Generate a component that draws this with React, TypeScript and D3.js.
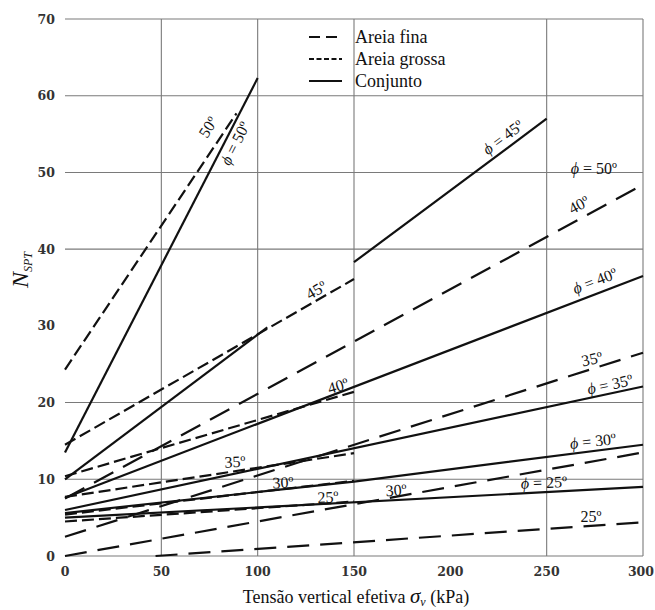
import React from 'react';
import * as d3 from 'd3';

const W = 655;
const H = 610;

const xTicks = [0, 50, 100, 150, 200, 250, 300];
const yTicks = [0, 10, 20, 30, 40, 50, 60, 70];
const xGrid = [50, 100, 150, 250, 300];
const yGrid = [0, 10, 20, 40, 50, 60, 70];

// Areia fina (long dashes): [sigma, N] end points
const finaPhi = [25, 30, 35, 40];
const finaPts: number[][][] = [
  [[47, 0], [300, 4.4]],
  [[0, 0], [300, 13.5]],
  [[0, 2.5], [300, 26.5]],
  [[0, 7.5], [300, 48.4]],
];

// Areia grossa (short dashes)
const grossaPhi = [25, 30, 35, 40, 45, 50];
const grossaPts: number[][][] = [
  [[0, 4.5], [150, 7.1]],
  [[0, 5.4], [150, 9.8]],
  [[0, 7.7], [150, 13.4]],
  [[0, 10.4], [150, 21.4]],
  [[0, 14.5], [150, 36.1]],
  [[0, 24.3], [89, 57.7]],
];

// Conjunto (solid)
const conjPhi = [25, 30, 35, 40, 45, 45, 50];
const conjPts: number[][][] = [
  [[0, 5.0], [300, 9.0]],
  [[0, 5.6], [150, 9.7], [300, 14.5]],
  [[0, 6.0], [300, 22.1]],
  [[0, 7.6], [300, 36.5]],
  [[0, 10], [105, 29.8]],
  [[150, 38.3], [250, 57]],
  [[0, 13.5], [100, 62.3]],
];

// curve labels: text, has phi, position (data units), rotation
const labelDeg = ['50', '50', '45', '50', '40', '45', '40', '40', '35', '35', '30', '25', '25', '30', '25', '30', '35'];
const labelPhi = [false, true, true, true, false, false, false, true, false, true, true, true, false, false, false, false, false];
const labelAt = [
  [74.2, 55.9], [88.2, 53.8], [227.3, 54.6], [274.5, 50.5], [266.7, 45.8],
  [130.3, 34.7], [141.7, 22.2], [275, 35.9], [273.5, 25.7], [282.8, 22.4],
  [274, 15.0], [248.6, 9.6], [273, 5.1], [171.8, 8.6], [136.5, 7.7],
  [113.1, 9.6], [88.2, 12.3],
];
const labelRot = [-57, -63, -37, 0, -28, -30, -16, -21, -12, -12, -6, -2, 0, -4, -3, -3, -3];

const legendNames = ['Areia fina', 'Areia grossa', 'Conjunto'];

const serif = '"Liberation Serif", "Times New Roman", serif';
const ink = '#111';

export default function App() {
  const x = d3.scaleLinear().domain([0, 300]).range([65, 643]);
  const y = d3.scaleLinear().domain([0, 70]).range([556, 19]);
  const line = d3.line<number[]>().x(d => x(d[0])).y(d => y(d[1]));

  const finaDash = '22,11';
  const grossaDash = '12,5';
  const legendDash = ['11,6', '5,2.5', ''];

  return (
    <div style={{ position: 'absolute', left: 0, top: 0 }}>
      <svg width={W} height={H} style={{ display: 'block', background: '#fff' }}>
        {/* grid */}
        <g stroke="#7a7a7a" strokeWidth={1.1}>
          {xGrid.map(v => (
            <line key={'gx' + v} x1={x(v)} x2={x(v)} y1={y(0)} y2={y(70)} />
          ))}
          {yGrid.map(v => (
            <line key={'gy' + v} x1={x(0)} x2={x(300)} y1={y(v)} y2={y(v)} />
          ))}
        </g>

        {/* tick labels */}
        <g fontFamily='"DejaVu Serif", serif' fontWeight="bold" fontSize={12.5} fill="#333">
          {yTicks.map(v => (
            <text key={'ty' + v} x={55} y={y(v)} dy="0.36em" textAnchor="end">{v}</text>
          ))}
          {xTicks.map((v, i) => (
            <text
              key={'tx' + v}
              x={i === xTicks.length - 1 ? W - 1 : x(v)}
              y={576}
              textAnchor={i === xTicks.length - 1 ? 'end' : 'middle'}
            >
              {v}
            </text>
          ))}
        </g>

        {/* curves */}
        <g fill="none" stroke={ink} strokeWidth={2.2}>
          {finaPts.map((p, i) => (
            <path key={'f' + finaPhi[i]} d={line(p) || ''} strokeDasharray={finaDash} />
          ))}
          {grossaPts.map((p, i) => (
            <path key={'g' + grossaPhi[i]} d={line(p) || ''} strokeDasharray={grossaDash} />
          ))}
          {conjPts.map((p, i) => (
            <path key={'c' + i + '-' + conjPhi[i]} d={line(p) || ''} />
          ))}
        </g>

        {/* curve labels */}
        <g fontFamily={serif} fontSize={16} fill={ink}>
          {labelDeg.map((d, i) => (
            <text
              key={'l' + i}
              transform={`translate(${x(labelAt[i][0])},${y(labelAt[i][1])}) rotate(${labelRot[i]})`}
              textAnchor="middle"
              dy="0.35em"
            >
              {labelPhi[i] ? <tspan fontStyle="italic">ϕ</tspan> : null}
              {labelPhi[i] ? ' = ' : ''}
              {d}º
            </text>
          ))}
        </g>

        {/* legend */}
        <g>
          {legendNames.map((n, i) => (
            <g key={n}>
              <line
                x1={309}
                x2={342}
                y1={37 + i * 22}
                y2={37 + i * 22}
                stroke={ink}
                strokeWidth={2.2}
                strokeDasharray={legendDash[i] || undefined}
              />
              <text x={355} y={37 + i * 22} dy="0.35em" fontFamily={serif} fontSize={18} fill={ink}>
                {n}
              </text>
            </g>
          ))}
        </g>

        {/* axis titles */}
        <text x={356} y={603} textAnchor="middle" fontFamily={serif} fontSize={18} fill={ink}>
          Tensão vertical efetiva{'  '}
          <tspan fontStyle="italic" fontSize={21}>σ</tspan>
          <tspan fontStyle="italic" fontSize={12} dy={3}>v</tspan>
          <tspan dy={-3}> (kPa)</tspan>
        </text>
        <text
          transform="translate(28,270) rotate(-90)"
          textAnchor="middle"
          fontFamily={serif}
          fill={ink}
        >
          <tspan fontStyle="italic" fontSize={24}>N</tspan>
          <tspan fontStyle="italic" fontSize={12} dy={4}>SPT</tspan>
        </text>
      </svg>
    </div>
  );
}
